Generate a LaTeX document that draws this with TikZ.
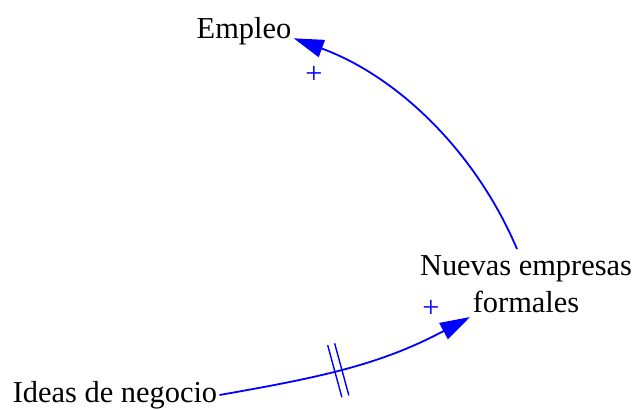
\documentclass[tikz,border=0pt]{standalone}
\usepackage{fontspec}
\setmainfont{Liberation Serif}
\usetikzlibrary{arrows.meta,decorations.markings}

\begin{document}
\begin{tikzpicture}[x=0.5pt,y=0.5pt,
  var/.style={inner sep=1pt, align=center, font=\fontsize{15.2}{18.5}\selectfont},
  link/.style={draw=blue, line width=0.9pt, -{Triangle[length=15pt,width=9pt]}},
  sign/.style={text=blue, inner sep=0pt, font=\fontsize{15.2}{18.5}\selectfont},
  delay/.style={postaction={decorate}, decoration={markings,
    mark=at position #1 with {\draw[-, blue, line width=0.7pt]
      (-1.8pt,-13.5pt) -- (-1.8pt,13.5pt) (1.8pt,-13.5pt) -- (1.8pt,13.5pt);}}}]
  \useasboundingbox (0,0) rectangle (636,409);
  \node[var] (empleo) at (244,378) {Empleo};
  \node[var] (nuevas) at (526,125) {Nuevas empresas\\formales};
  \node[var] (ideas) at (115,14) {Ideas de negocio};
  % links
  \draw[link] ([xshift=-4.5pt,yshift=2pt]nuevas.north) to[out=113,in=-20,looseness=0.9] (empleo.base east);
  \draw[link, delay=0.46] (ideas.east) to[out=10,in=208] ([xshift=-28pt,yshift=-1pt]nuevas.south);
  % polarities
  \node[sign] (p1) at (314,334) {+};
  \node[sign] (p2) at (431,100) {+};
\end{tikzpicture}
\end{document}
